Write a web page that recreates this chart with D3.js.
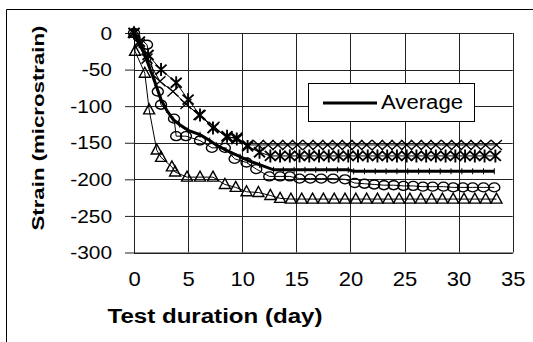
<!DOCTYPE html>
<html>
<head>
<meta charset="utf-8">
<script src="https://cdn.jsdelivr.net/npm/d3@7"></script>
<style>
  body { margin: 0; background: #fff; }
  svg text { font-family: "Liberation Sans", Arial, sans-serif; fill: #000; }
</style>
</head>
<body>
<div id="dataviz"></div>
<script>
// values
const triDays = [0, 0.1, 1.0, 1.4, 2.1, 2.5, 3.5, 3.8, 4.9, 6.1, 7.3, 8.4, 9.4, 10.4, 11.5, 12.6,
  13.5, 14.5, 15.5, 16.5, 17.5, 18.5, 19.5, 20.5, 21.5, 22.5, 23.5, 24.5, 25.5, 26.5, 27.5, 28.5, 29.5, 30.5, 31.5, 32.5, 33.5];
const triVals = [0, -25, -55, -105, -160, -170, -183, -190, -197, -197, -197, -207, -211, -217, -218, -222,
  -226, -227, -227, -227, -227, -227, -227, -227, -227, -227, -227, -227, -227, -227, -227, -227, -227, -227, -227, -227, -227];

const circDays = [0, 1.2, 2.2, 2.5, 3.7, 3.9, 4.8, 6.1, 7.2, 8.4, 9.3, 10.4, 11.3, 12.5, 13.5, 14.4, 15.3, 16.3, 17.3, 18.4,
  19.5, 20.4, 21.3, 22.2, 23.1, 24.0, 24.9, 25.8, 26.7, 27.6, 28.6, 29.5, 30.4, 31.3, 32.3, 33.3];
const circVals = [0, -16, -80, -98, -117, -141, -141, -147, -157, -157, -172, -177, -186, -196, -196, -196, -199, -199, -199, -199,
  -200, -205, -206, -207, -208, -208, -209, -209, -210, -210, -210, -211, -211, -211, -211, -211];

const crossDays = [0, 0.5, 1.2, 2.4, 3.6, 4.8, 6.0, 7.4, 8.6, 9.5, 10.5, 11.5,
  12.4, 13.3, 14.2, 15.1, 16.1, 17.0, 17.9, 18.8, 19.7, 20.6, 21.5, 22.5, 23.4, 24.3, 25.2, 26.1, 27.0, 27.9, 28.9, 29.8, 30.7, 31.6, 32.5, 33.5];
const crossVals = [0, -15, -35, -66, -80, -97, -112, -128, -143, -143, -153, -153,
  -153, -153, -153, -153, -153, -153, -153, -153, -153, -153, -153, -153, -153, -153, -153, -153, -153, -153, -153, -153, -153, -153, -153, -153];

const astDays = [0, 0.5, 1.3, 2.5, 3.9, 5.0, 6.1, 7.3, 8.6, 9.5, 10.5, 11.6,
  12.6, 13.5, 14.4, 15.3, 16.2, 17.1, 18.0, 18.9, 19.8, 20.7, 21.6, 22.5, 23.4, 24.3, 25.2, 26.1, 27.0, 27.9, 28.8, 29.7, 30.6, 31.5, 32.4, 33.4];
const astVals = [0, -12, -30, -50, -68, -91, -112, -130, -141, -145, -155, -163,
  -168, -168, -168, -168, -168, -168, -168, -168, -168, -168, -168, -168, -168, -168, -168, -168, -168, -168, -168, -168, -168, -168, -168, -168];

const avgDays = [0, 0.5, 1, 1.5, 2, 2.5, 3, 3.6, 4.2, 5, 6.1, 7, 7.6, 8.5, 9.8, 10.5, 11.6, 12.9, 13.8, 14.8,
  15.8, 16.8, 17.8, 18.8, 19.8, 20.3, 21.3, 22.3, 23.3, 24.3, 25.3, 26.3, 27.3, 28.3, 29.3, 30.3, 31.3, 32.3, 33.3];
const avgVals = [0, -15, -30, -50, -70, -91, -105, -118, -125, -133, -139, -147, -153, -160, -169, -174, -180, -187, -187, -187,
  -187, -187, -187, -187, -187, -189, -189, -189, -189, -189, -189, -189, -189, -189, -189, -189, -189, -189, -189];

const xTicks = [0, 5, 10, 15, 20, 25, 30, 35];
const yTicks = [0, -50, -100, -150, -200, -250, -300];
const legendLabel = "Average";
const xTitle = "Test duration (day)";
const yTitle = "Strain (microstrain)";

const W = 533, H = 342;
const margin = {top: 33, right: 20.3, bottom: 89.5, left: 134},
    width = W - margin.left - margin.right,
    height = H - margin.top - margin.bottom;

const root = d3.select("#dataviz").append("svg")
    .attr("width", W).attr("height", H);

// outer chart frame (left and top edges visible)
root.append("path")
    .attr("d", `M6.5,${H} V9.5 H${W}`)
    .attr("fill", "none").attr("stroke", "#000").attr("stroke-width", 1);

let svg = root.append("g").attr("transform", `translate(${margin.left}, ${margin.top})`);

const xScale = d3.scaleLinear().domain([0, 35]).range([0, width]);
const yScale = d3.scaleLinear().domain([-300, 0]).range([height, 0]);

// grid
svg.append("g").selectAll("line").data(yTicks).join("line")
    .attr("x1", 0).attr("x2", width)
    .attr("y1", d => Math.round(yScale(d)) + 0.5).attr("y2", d => Math.round(yScale(d)) + 0.5)
    .attr("stroke", "#222").attr("stroke-width", 1);
svg.append("g").selectAll("line").data(xTicks).join("line")
    .attr("x1", d => Math.round(xScale(d)) + 0.5).attr("x2", d => Math.round(xScale(d)) + 0.5)
    .attr("y1", 0).attr("y2", height)
    .attr("stroke", "#222").attr("stroke-width", 1);

// axes (plain hyphen for negatives, as in the original)
const yAxis = svg.append("g")
    .call(d3.axisLeft(yScale).tickValues(yTicks).tickFormat(d => String(d))
      .tickSizeInner(9).tickSizeOuter(0).tickPadding(11));
yAxis.selectAll("text").attr("font-size", 19).attr("transform", "scale(1.1,1)");
yAxis.selectAll("line,path").attr("stroke", "#222");

const xAxis = svg.append("g")
    .attr("transform", `translate(0, ${height})`)
    .call(d3.axisBottom(xScale).tickValues(xTicks).tickFormat(d => String(d)).tickSize(0).tickPadding(19));
xAxis.selectAll("text").attr("font-size", 20).attr("transform", "scale(1.1,1)");
xAxis.selectAll("path").attr("stroke", "#222");

// titles
root.append("text")
    .attr("x", 215).attr("y", 322.5)
    .attr("text-anchor", "middle").attr("font-size", 19.5).attr("font-weight", "bold")
    .attr("textLength", 215).attr("lengthAdjust", "spacingAndGlyphs")
    .text(xTitle);
root.append("text")
    .attr("transform", "translate(43.5,128) rotate(-90)")
    .attr("text-anchor", "middle").attr("font-size", 17).attr("font-weight", "bold")
    .attr("textLength", 205).attr("lengthAdjust", "spacingAndGlyphs")
    .text(yTitle);

const line = d3.line().x(d => xScale(d[0])).y(d => yScale(d[1]));
const zip = (a, b) => a.map((d, i) => [d, b[i]]);

const series = [
  {pts: zip(triDays, triVals), mark: "tri"},
  {pts: zip(circDays, circVals), mark: "circ"},
  {pts: zip(crossDays, crossVals), mark: "x"},
  {pts: zip(astDays, astVals), mark: "ast"}
];

const plot = svg.append("g");
series.forEach(s => {
  plot.append("path").attr("d", line(s.pts))
      .attr("fill", "none").attr("stroke", "#000").attr("stroke-width", 1);
  const g = plot.append("g").selectAll("g").data(s.pts).join("g")
      .attr("transform", d => `translate(${xScale(d[0])},${yScale(d[1])})`);
  if (s.mark === "tri") {
    g.append("path").attr("d", "M0,-6 L5.5,4 L-5.5,4 Z")
        .attr("fill", "none").attr("stroke", "#000").attr("stroke-width", 1.4);
  } else if (s.mark === "circ") {
    g.append("ellipse").attr("rx", 5.5).attr("ry", 4.5)
        .attr("fill", "none").attr("stroke", "#000").attr("stroke-width", 1.4);
  } else if (s.mark === "x") {
    g.append("path").attr("d", "M-5.5,-5 L5.5,5 M-5.5,5 L5.5,-5")
        .attr("fill", "none").attr("stroke", "#000").attr("stroke-width", 1.4);
  } else {
    g.append("path").attr("d", "M-5.5,-5 L5.5,5 M-5.5,5 L5.5,-5 M0,-6.5 L0,6.5")
        .attr("fill", "none").attr("stroke", "#000").attr("stroke-width", 1.9);
  }
});

// average line
const avgPts = zip(avgDays, avgVals);
plot.append("path").attr("d", line(avgPts))
    .attr("fill", "none").attr("stroke", "#000").attr("stroke-width", 3);
plot.append("g").selectAll("line").data(avgPts).join("line")
    .attr("x1", d => xScale(d[0])).attr("x2", d => xScale(d[0]))
    .attr("y1", d => yScale(d[1]) - 3).attr("y2", d => yScale(d[1]) + 3)
    .attr("stroke", "#000").attr("stroke-width", 1);

// legend
const leg = root.append("g");
leg.append("rect").attr("x", 308.5).attr("y", 83.5).attr("width", 166).attr("height", 38)
    .attr("fill", "#fff").attr("stroke", "#000").attr("stroke-width", 1);
leg.append("line").attr("x1", 323).attr("x2", 377).attr("y1", 103).attr("y2", 103)
    .attr("stroke", "#000").attr("stroke-width", 3);
leg.append("text").attr("x", 381).attr("y", 108.5).attr("font-size", 20)
    .attr("textLength", 82).attr("lengthAdjust", "spacingAndGlyphs")
    .text(legendLabel);
</script>
</body>
</html>
